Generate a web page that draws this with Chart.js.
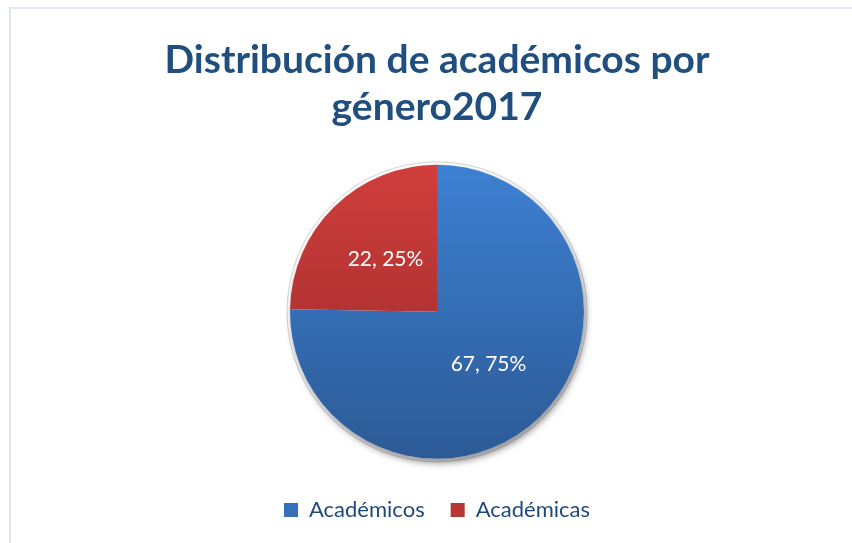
<!DOCTYPE html>
<html>
<head>
<meta charset="utf-8">
<script src="https://cdn.jsdelivr.net/npm/chart.js@4.4.0/dist/chart.umd.min.js"></script>
<style>
  html, body { margin: 0; padding: 0; background: #fff; overflow: hidden; }
  #frame { position: absolute; left: 9px; top: 7px; width: 900px; height: 600px; border: 2px solid #dde8f4; }
  #wrap { position: absolute; left: 0; top: 0; width: 852px; height: 543px; }
</style>
</head>
<body>
<div id="frame"></div>
<div id="wrap"><canvas id="pieChart"></canvas></div>
<script>
// chart data
const categories = ['Académicos', 'Académicas'];
const values = [67, 22];
const titleLines = ['Distribución de académicos por', 'género2017'];

// gradient stops per slice (top, bottom) and a flat colour for the legend box
const sliceColors = [
  { top: '#3d80d2', bottom: '#2c5a96', flat: '#3670ba' },
  { top: '#d03e3c', bottom: '#952929', flat: '#b83533' }
];

function sliceFill(context) {
  const chart = context.chart;
  const area = chart.chartArea;
  const c = sliceColors[context.dataIndex];
  if (!area) return c.flat;
  const cy = (area.top + area.bottom) / 2;
  const g = chart.ctx.createLinearGradient(0, cy - 147, 0, cy + 147);
  g.addColorStop(0, c.top);
  g.addColorStop(1, c.bottom);
  return g;
}

// soft shadow + faint outer ring behind the pie
const pieShadow = {
  id: 'pieShadow',
  beforeDatasetsDraw(chart) {
    const arc = chart.getDatasetMeta(0).data[0];
    if (!arc) return;
    const { x, y, outerRadius } = arc.getProps(['x', 'y', 'outerRadius'], true);
    const ctx = chart.ctx;
    ctx.save();
    ctx.beginPath();
    ctx.arc(x, y, outerRadius + 3, 0, Math.PI * 2);
    ctx.strokeStyle = 'rgba(160,160,160,0.45)';
    ctx.lineWidth = 1;
    ctx.stroke();
    ctx.beginPath();
    ctx.arc(x, y, outerRadius, 0, Math.PI * 2);
    ctx.fillStyle = '#fff';
    ctx.shadowColor = 'rgba(0,0,0,0.45)';
    ctx.shadowBlur = 7;
    ctx.shadowOffsetX = 2;
    ctx.shadowOffsetY = 4;
    ctx.fill();
    ctx.restore();
  }
};

// "value, pct%" labels inside the slices
const sliceLabels = {
  id: 'sliceLabels',
  afterDatasetsDraw(chart) {
    const ctx = chart.ctx;
    const total = values.reduce((a, b) => a + b, 0);
    ctx.save();
    ctx.fillStyle = '#ffffff';
    ctx.font = '21px Lato';
    ctx.textAlign = 'center';
    ctx.textBaseline = 'middle';
    chart.getDatasetMeta(0).data.forEach((arc, i) => {
      const p = arc.getProps(['x', 'y', 'startAngle', 'endAngle', 'outerRadius'], true);
      const mid = (p.startAngle + p.endAngle) / 2;
      const r = p.outerRadius * 0.5;
      const pct = Math.round(values[i] / total * 100);
      ctx.fillText(values[i] + ', ' + pct + '%', p.x + Math.cos(mid) * r, p.y + Math.sin(mid) * r);
    });
    ctx.restore();
  }
};

const ctx = document.getElementById('pieChart').getContext('2d');

new Chart(ctx, {
  type: 'pie',
  data: {
    labels: categories,
    datasets: [{
      data: values,
      backgroundColor: sliceFill,
      borderWidth: 0,
      radius: 147
    }]
  },
  options: {
    responsive: true,
    maintainAspectRatio: false,
    animation: false,
    layout: { padding: { left: 22, right: 0, top: 0, bottom: 12 } },
    plugins: {
      title: {
        display: true,
        text: titleLines,
        color: '#1f4e7f',
        font: { family: 'Lato', size: 39, weight: 'bold', lineHeight: 1.2 },
        padding: { top: 37, bottom: 20 }
      },
      legend: {
        position: 'bottom',
        labels: {
          color: '#1f497d',
          font: { family: 'Lato', size: 22 },
          boxWidth: 14,
          boxHeight: 14,
          padding: 26,
          generateLabels: (chart) => categories.map((name, i) => ({
            text: name,
            fillStyle: sliceColors[i].flat,
            strokeStyle: sliceColors[i].flat,
            lineWidth: 0,
            fontColor: '#1f497d',
            hidden: false,
            index: i
          }))
        }
      },
      tooltip: { enabled: false }
    }
  },
  plugins: [pieShadow, sliceLabels]
});
</script>
</body>
</html>
